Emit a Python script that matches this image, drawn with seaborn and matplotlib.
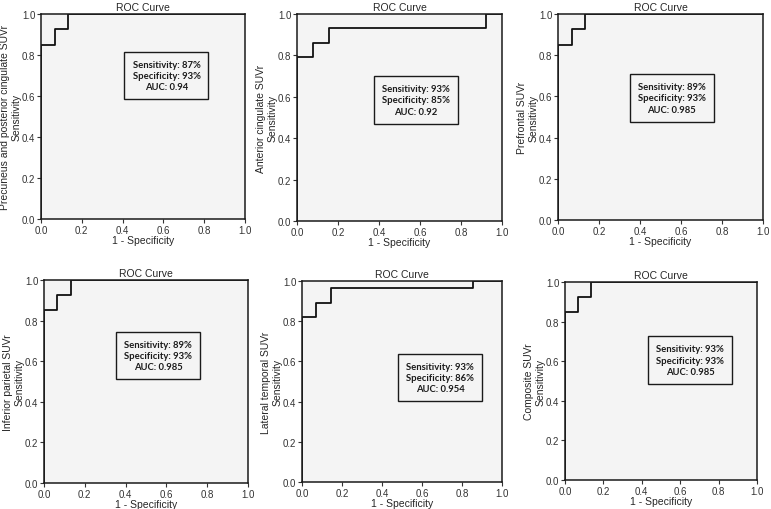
import numpy as np
import pandas as pd
import matplotlib
matplotlib.use("Agg")
import matplotlib.pyplot as plt
import seaborn as sns

# Datos: puntos de esquina de cada curva ROC (1 - especificidad, sensibilidad)
regions = [
    "Precuneus and posterior cingulate SUVr",
    "Anterior cingulate SUVr",
    "Prefrontal SUVr",
    "Inferior parietal SUVr",
    "Lateral temporal SUVr",
    "Composite SUVr",
]

fpr_precuneus = [0.0, 0.0, 0.067, 0.067, 0.133, 0.133, 1.0]
tpr_precuneus = [0.0, 0.85, 0.85, 0.925, 0.925, 1.0, 1.0]

fpr_anterior = [0.0, 0.0, 0.077, 0.077, 0.154, 0.154, 0.923, 0.923, 1.0]
tpr_anterior = [0.0, 0.79, 0.79, 0.86, 0.86, 0.93, 0.93, 1.0, 1.0]

fpr_prefrontal = [0.0, 0.0, 0.067, 0.067, 0.133, 0.133, 1.0]
tpr_prefrontal = [0.0, 0.85, 0.85, 0.925, 0.925, 1.0, 1.0]

fpr_parietal = [0.0, 0.0, 0.065, 0.065, 0.13, 0.13, 1.0]
tpr_parietal = [0.0, 0.85, 0.85, 0.925, 0.925, 1.0, 1.0]

fpr_temporal = [0.0, 0.0, 0.071, 0.071, 0.143, 0.143, 0.857, 0.857, 1.0]
tpr_temporal = [0.0, 0.82, 0.82, 0.89, 0.89, 0.964, 0.964, 1.0, 1.0]

fpr_composite = [0.0, 0.0, 0.067, 0.067, 0.133, 0.133, 1.0]
tpr_composite = [0.0, 0.85, 0.85, 0.925, 0.925, 1.0, 1.0]

sensitivity = ["87%", "93%", "89%", "89%", "93%", "93%"]
specificity = ["93%", "85%", "93%", "93%", "86%", "93%"]
auc = ["0.94", "0.92", "0.985", "0.985", "0.954", "0.985"]

curves = [
    (fpr_precuneus, tpr_precuneus),
    (fpr_anterior, tpr_anterior),
    (fpr_prefrontal, tpr_prefrontal),
    (fpr_parietal, tpr_parietal),
    (fpr_temporal, tpr_temporal),
    (fpr_composite, tpr_composite),
]

# Posiciones (en píxeles) de cada panel: izquierda, arriba, derecha, abajo
panel_px = [
    (41, 15, 245, 220),
    (297, 15, 502, 222),
    (558, 15, 763, 221),
    (44, 281, 248, 484),
    (302, 282, 502, 483),
    (565, 283, 757, 481),
]
# Centro de la caja de texto en coordenadas de ejes
box_pos = [(0.615, 0.70), (0.58, 0.585), (0.555, 0.593),
           (0.56, 0.628), (0.69, 0.52), (0.652, 0.605)]

sns.set_style("ticks")
plt.rcParams['font.family'] = ['Liberation Sans', 'DejaVu Sans']

W, H = 771, 510
fig = plt.figure(figsize=(W / 100, H / 100), dpi=100)
ticks = np.arange(0, 1.01, 0.2)

for i, (fpr, tpr) in enumerate(curves):
    l, t, r, b = panel_px[i]
    ax = fig.add_axes([l / W, 1 - b / H, (r - l) / W, (b - t) / H])
    ax.set_facecolor("#f4f4f4")
    df = pd.DataFrame({"fpr": fpr, "tpr": tpr})
    sns.lineplot(data=df, x="fpr", y="tpr", sort=False, estimator=None,
                 color="#111111", linewidth=1.3, ax=ax)
    ax.set_xlim(0, 1)
    ax.set_ylim(0, 1)
    ax.set_xticks(ticks)
    ax.set_yticks(ticks)
    ax.set_xticklabels([f"{v:.1f}" for v in ticks])
    ax.set_yticklabels([f"{v:.1f}" for v in ticks])
    ax.tick_params(labelsize=7, length=3, width=0.8, pad=1, colors="#333333")
    for s in ax.spines.values():
        s.set_color("#1a1a1a")
        s.set_linewidth(1.1)
    ax.set_title("ROC Curve", fontsize=7.5, pad=3)
    ax.set_xlabel("1 - Specificity", fontsize=7.5, labelpad=0)
    ax.set_ylabel(regions[i] + "\nSensitivity", fontsize=7.5, labelpad=0,
                  linespacing=1.2)
    txt = f"Sensitivity: {sensitivity[i]}\nSpecificity: {specificity[i]}\nAUC: {auc[i]}"
    bx, by = box_pos[i]
    ax.text(bx, by, txt, transform=ax.transAxes, ha="center", va="center",
            fontsize=6.8, family=["Lato", "DejaVu Sans"], fontweight="bold",
            color="#1a1a1a", linespacing=1.35,
            bbox=dict(boxstyle="square,pad=0.85", fc="#f4f4f4", ec="#1a1a1a", lw=1.0))

fig.savefig("out.png", dpi=100)
